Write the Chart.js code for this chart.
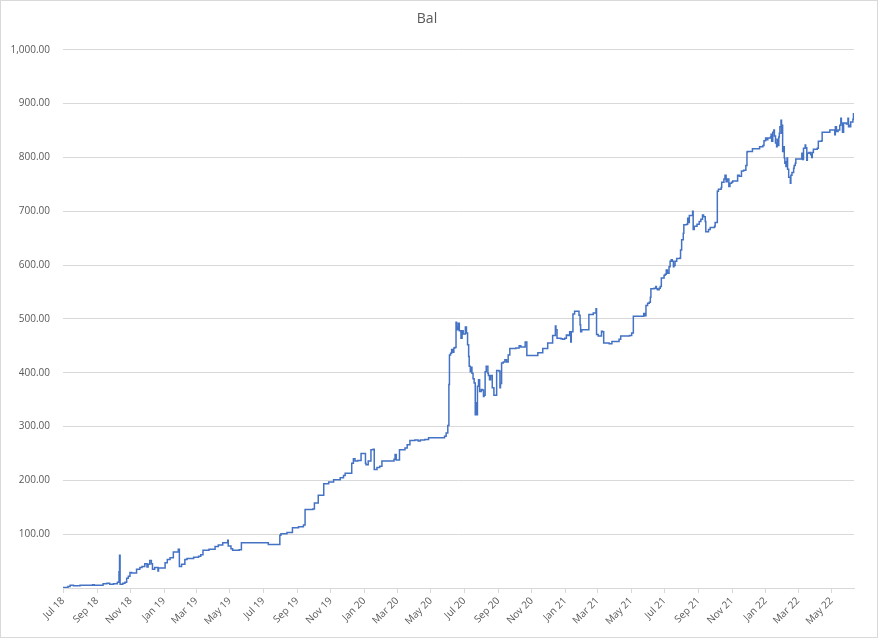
<!DOCTYPE html>
<html>
<head>
<meta charset="utf-8">
<title>Bal</title>
<script src="https://cdn.jsdelivr.net/npm/chart.js@4.4.1/dist/chart.umd.min.js"></script>
<style>
	body{ margin:0; background:#fff; }
	canvas{ display:block; }
</style>
</head>
<body>
<canvas id="balChart" width="878" height="638"></canvas>
<script>

/*balance readings (date of change, value)*/
var balDates = [
	"2018-07-01","2018-07-10","2018-07-14","2018-07-20","2018-08-01","2018-08-24","2018-08-27","2018-09-12","2018-09-19","2018-09-24",
	"2018-10-01","2018-10-08","2018-10-11","2018-10-12","2018-10-13","2018-10-18","2018-10-22","2018-10-25","2018-10-28","2018-10-31",
	"2018-11-03","2018-11-09","2018-11-12","2018-11-18","2018-11-22","2018-11-27","2018-12-01","2018-12-03","2018-12-06","2018-12-09",
	"2018-12-11","2018-12-15","2018-12-21","2018-12-22","2019-01-03","2019-01-07","2019-01-12","2019-01-18","2019-01-27","2019-01-29",
	"2019-02-02","2019-02-08","2019-02-12","2019-02-24","2019-03-05","2019-03-09","2019-03-13","2019-03-24","2019-04-04","2019-04-10",
	"2019-04-18","2019-04-27","2019-04-28","2019-05-03","2019-05-06","2019-05-18","2019-05-22","2019-07-10","2019-07-31","2019-08-02",
	"2019-08-13","2019-08-23","2019-09-03","2019-09-12","2019-09-15","2019-09-29","2019-10-02","2019-10-09","2019-10-19","2019-10-28",
	"2019-11-06","2019-11-18","2019-11-24","2019-11-27","2019-12-09","2019-12-12","2019-12-15","2019-12-20","2019-12-26","2020-01-01",
	"2020-01-03","2020-01-04","2020-01-08","2020-01-13","2020-01-17","2020-01-19","2020-01-24","2020-01-29","2020-02-02","2020-02-20",
	"2020-02-24","2020-02-26","2020-02-28","2020-03-05","2020-03-15","2020-03-19","2020-03-24","2020-04-02","2020-04-08","2020-04-12",
	"2020-04-20","2020-04-27","2020-05-26","2020-05-29","2020-06-01","2020-06-03","2020-06-04","2020-06-06","2020-06-08","2020-06-10",
	"2020-06-12","2020-06-14","2020-06-16","2020-06-17","2020-06-18","2020-06-20","2020-06-22","2020-06-25","2020-06-27","2020-06-29",
	"2020-07-03","2020-07-05","2020-07-07","2020-07-09","2020-07-10","2020-07-12","2020-07-13","2020-07-15","2020-07-17","2020-07-19",
	"2020-07-21","2020-07-22","2020-07-23","2020-07-25","2020-07-27","2020-07-29","2020-08-01","2020-08-03","2020-08-05","2020-08-06",
	"2020-08-08","2020-08-10","2020-08-13","2020-08-14","2020-08-16","2020-08-18","2020-08-21","2020-08-24","2020-08-29","2020-09-02",
	"2020-09-04","2020-09-05","2020-09-07","2020-09-10","2020-09-13","2020-09-16","2020-09-19","2020-09-22","2020-10-03","2020-10-09",
	"2020-10-12","2020-10-20","2020-10-23","2020-11-06","2020-11-12","2020-11-21","2020-11-30","2020-12-09","2020-12-14","2020-12-15",
	"2020-12-17","2020-12-24","2020-12-27","2020-12-31","2021-01-03","2021-01-06","2021-01-09","2021-01-11","2021-01-12","2021-01-15",
	"2021-01-18","2021-01-23","2021-01-26","2021-01-28","2021-01-29","2021-01-31","2021-02-12","2021-02-13","2021-02-21","2021-02-26",
	"2021-02-27","2021-03-02","2021-03-08","2021-03-10","2021-03-12","2021-03-22","2021-03-27","2021-04-09","2021-04-12","2021-04-28",
	"2021-05-02","2021-05-05","2021-05-24","2021-05-26","2021-05-28","2021-05-31","2021-06-03","2021-06-05","2021-06-06","2021-06-12",
	"2021-06-15","2021-06-16","2021-06-18","2021-06-21","2021-06-23","2021-06-25","2021-06-30","2021-07-02","2021-07-04","2021-07-06",
	"2021-07-09","2021-07-11","2021-07-13","2021-07-15","2021-07-17","2021-07-18","2021-07-20","2021-07-23","2021-07-29","2021-07-30",
	"2021-08-01","2021-08-04","2021-08-05","2021-08-10","2021-08-12","2021-08-13","2021-08-15","2021-08-19","2021-08-21","2021-08-22",
	"2021-08-24","2021-08-29","2021-09-02","2021-09-05","2021-09-08","2021-09-10","2021-09-13","2021-09-14","2021-09-19","2021-09-22",
	"2021-09-30","2021-10-01","2021-10-05","2021-10-07","2021-10-12","2021-10-13","2021-10-17","2021-10-19","2021-10-21","2021-10-23",
	"2021-10-26","2021-10-28","2021-10-31","2021-11-02","2021-11-11","2021-11-14","2021-11-18","2021-11-22","2021-11-26","2021-11-28",
	"2021-11-29","2021-12-08","2021-12-21","2021-12-27","2021-12-29","2022-01-01","2022-01-03","2022-01-05","2022-01-10","2022-01-11",
	"2022-01-12","2022-01-14","2022-01-16","2022-01-17","2022-01-19","2022-01-21","2022-01-22","2022-01-23","2022-01-25","2022-01-26",
	"2022-01-27","2022-01-29","2022-01-30","2022-01-31","2022-02-01","2022-02-02","2022-02-04","2022-02-05","2022-02-06","2022-02-07",
	"2022-02-09","2022-02-10","2022-02-12","2022-02-15","2022-02-16","2022-02-18","2022-02-21","2022-02-22","2022-02-24","2022-02-25",
	"2022-03-08","2022-03-09","2022-03-11","2022-03-14","2022-03-15","2022-03-17","2022-03-18","2022-03-21","2022-03-24","2022-03-26",
	"2022-03-27","2022-03-29","2022-04-05","2022-04-07","2022-04-13","2022-04-14","2022-04-28","2022-05-07","2022-05-08","2022-05-10",
	"2022-05-13","2022-05-16","2022-05-18","2022-05-19","2022-05-21","2022-05-23","2022-05-28","2022-05-31","2022-06-01","2022-06-02",
	"2022-06-04","2022-06-05","2022-06-09","2022-06-10","2022-06-11"
];

var balValues = [
	1,3,5,4,5,6,5,8,9,7,
	8,10.5,30,61,7,9,10.5,18,22,29,
	28,28,35,38,40,45,39,44,51,45,
	35,38,31.5,37,47,53,56,67,72,40,
	44,53,55,57,59,62,70,72,77,80,
	84,88.5,78,73,70,71,84,81,98,101,
	103,112,114,117,146,147,158,172.5,193.5,197,
	201,205,209,213,232,240,236,237,250,250,
	232,229,236,257,258,220,224,226,236,236,
	239,248,238,257,260,266,274,275,273,275,
	276,279,282,288,302,378,433,436,443,438,
	446,447,494,485,480,492,478,464,478,472,
	485,474,452,430,412,402,410,399,389,381,
	322,344,322,375,387,365,369,368,356,358,
	402,412,399,395,387,395,372,358,404,403,
	372,380,418,420,424,420,433,445,446,450,
	448,457,432,432,437,445,455,469,487,480,
	464,463,462,464,470,469,476,457,476,509,
	514,514,507,489,476,480,480,508,511,519,
	471,468,477,476,455,454,458,462,468,469,
	474,505,510,506,525,529,531,540,556,557,
	560,556,554,557,560,576,581,583,591,585,
	597,607,610,607,597,599,607,612,613,628,
	647,659,675,676,687,679,692,692,700,666,
	672,676,681,685,693,690,681,662,666,670,
	672,679,737,741,744,754,760,767,755,760,
	746,752,754,756,767,765,775,776,785,810,
	811,816,820,822,831,836,833,836,838,843,
	830,847,851,840,827,820,834,822,838,845,
	857,869,845,860,811,820,799,789,792,783,
	799,778,763,752,767,772,780,785,789,797,
	808,796,817,823,818,795,808,809,805,800,
	809,815,817,830,831,847,851,842,857,848,
	851,860,873,864,847,864,862,873,857,860,
	857,866,871,881,881
];

/*x axis ticks every 2 months*/
var tickDates = [
	"2018-07-01","2018-09-01","2018-11-01","2019-01-01","2019-03-01","2019-05-01","2019-07-01","2019-09-01",
	"2019-11-01","2020-01-01","2020-03-01","2020-05-01","2020-07-01","2020-09-01","2020-11-01","2021-01-01",
	"2021-03-01","2021-05-01","2021-07-01","2021-09-01","2021-11-01","2022-01-01","2022-03-01","2022-05-01"
];
var tickLabels = [
	"Jul 18","Sep 18","Nov 18","Jan 19","Mar 19","May 19","Jul 19","Sep 19",
	"Nov 19","Jan 20","Mar 20","May 20","Jul 20","Sep 20","Nov 20","Jan 21",
	"Mar 21","May 21","Jul 21","Sep 21","Nov 21","Jan 22","Mar 22","May 22"
];

var yTickStep = 100;
var yMax = 1000;

/*no date adapter here: dates become days since the first reading*/
var startDay = Date.UTC(2018, 6, 1);
function toDay(s){
	var p = s.split("-");
	return (Date.UTC(+p[0], +p[1] - 1, +p[2]) - startDay) / 86400000;
}

var points = [];
for(var i = 0; i < balDates.length; i++){
	points.push({x: toDay(balDates[i]), y: balValues[i]});
}
var tickDays = tickDates.map(toDay);
var lastDay = toDay(balDates[balDates.length - 1]);

var txtColor = "#595959";
var gridColor = "#d9d9d9";

/*white background + thin frame like the excel chart area*/
var frame = {
	id: "frame",
	beforeDraw: function(chart){
		var ctx = chart.ctx;
		ctx.save();
		ctx.fillStyle = "#fff";
		ctx.fillRect(0, 0, chart.width, chart.height);
		ctx.strokeStyle = gridColor;
		ctx.lineWidth = 1;
		ctx.strokeRect(0.5, 0.5, chart.width - 1, chart.height - 1);
		ctx.restore();
	}
};

var balChart = new Chart(document.getElementById("balChart"), {
	type: "line",
	data: {
		datasets: [{
			label: "Bal",
			data: points,
			borderColor: "#4472C4",
			borderWidth: 1.5,
			pointRadius: 0,
			stepped: "before",
			fill: false
		}]
	},
	options: {
		responsive: false,
		animation: false,
		layout: { padding: { left: 0, right: 24, top: 0, bottom: 0 } },
		plugins: {
			legend: { display: false },
			tooltip: { enabled: false },
			title: {
				display: true,
				text: "Bal",
				color: txtColor,
				font: { family: "'Open Sans', sans-serif", size: 14, weight: "normal" },
				padding: { top: 11, bottom: 22 }
			}
		},
		scales: {
			x: {
				type: "linear",
				min: 0,
				max: lastDay,
				afterBuildTicks: function(scale){
					scale.ticks = tickDays.map(function(d){ return {value: d}; });
				},
				afterFit: function(scale){ scale.height = 50; },
				border: { color: gridColor },
				grid: { drawOnChartArea: false, drawTicks: true, tickLength: 5, color: gridColor },
				ticks: {
					autoSkip: false,
					maxRotation: 45,
					minRotation: 45,
					padding: 2,
					color: txtColor,
					font: { family: "'Open Sans', sans-serif", size: 10 },
					callback: function(v, idx){ return tickLabels[idx]; }
				}
			},
			y: {
				min: 0,
				max: yMax,
				afterFit: function(scale){ scale.width = 63; },
				border: { display: false },
				grid: { color: gridColor, drawTicks: false },
				ticks: {
					stepSize: yTickStep,
					padding: 13,
					color: txtColor,
					font: { family: "'Open Sans', sans-serif", size: 10 },
					callback: function(v){
						if(v === 0){ return ""; }
						return v.toLocaleString("en-US", {minimumFractionDigits: 2, maximumFractionDigits: 2});
					}
				}
			}
		}
	},
	plugins: [frame]
});

</script>
</body>
</html>
